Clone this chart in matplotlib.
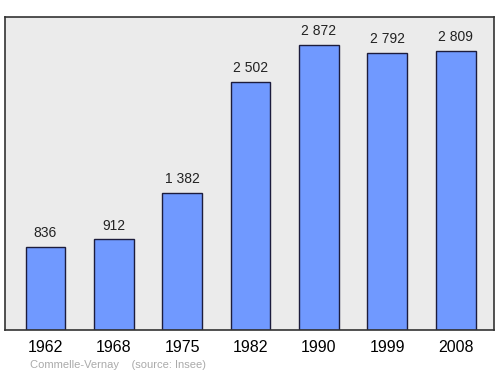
import matplotlib
matplotlib.use('Agg')
import matplotlib.pyplot as plt

years = ['1962', '1968', '1975', '1982', '1990', '1999', '2008']
population = [836, 912, 1382, 2502, 2872, 2792, 2809]
labels = ['836', '912', '1 382', '2 502', '2 872', '2 792', '2 809']

plt.rcParams['font.family'] = ['Liberation Sans', 'DejaVu Sans']

fig = plt.figure(figsize=(5, 3.74), dpi=100)
ax = fig.add_axes([0.01, 1 - 330 / 374, 0.978, 313 / 374])
ax.set_facecolor('#ebebeb')

x = range(len(years))
ax.bar(x, population, width=0.58, color='#7099ff', edgecolor='#1c1c3c', linewidth=1.0, zorder=2)

for i, (v, t) in enumerate(zip(population, labels)):
    ax.annotate(t, (i, v), xytext=(0, 5), textcoords='offset points',
                ha='center', va='bottom', fontsize=10, color='#222222')

ax.set_xlim(-0.59, 6.56)
ax.set_ylim(0, 3154)
ax.set_xticks(list(x))
ax.set_xticklabels(years, fontsize=11.5)
ax.tick_params(axis='x', length=0, pad=7)
ax.set_yticks([])
for s in ax.spines.values():
    s.set_color('#333333')
    s.set_linewidth(1.2)

fig.text(0.06, 1 - 365 / 374, 'Commelle-Vernay    (source: Insee)', fontsize=8,
         color='#aaaaaa', va='center', ha='left')

fig.savefig('out.png', dpi=100)
